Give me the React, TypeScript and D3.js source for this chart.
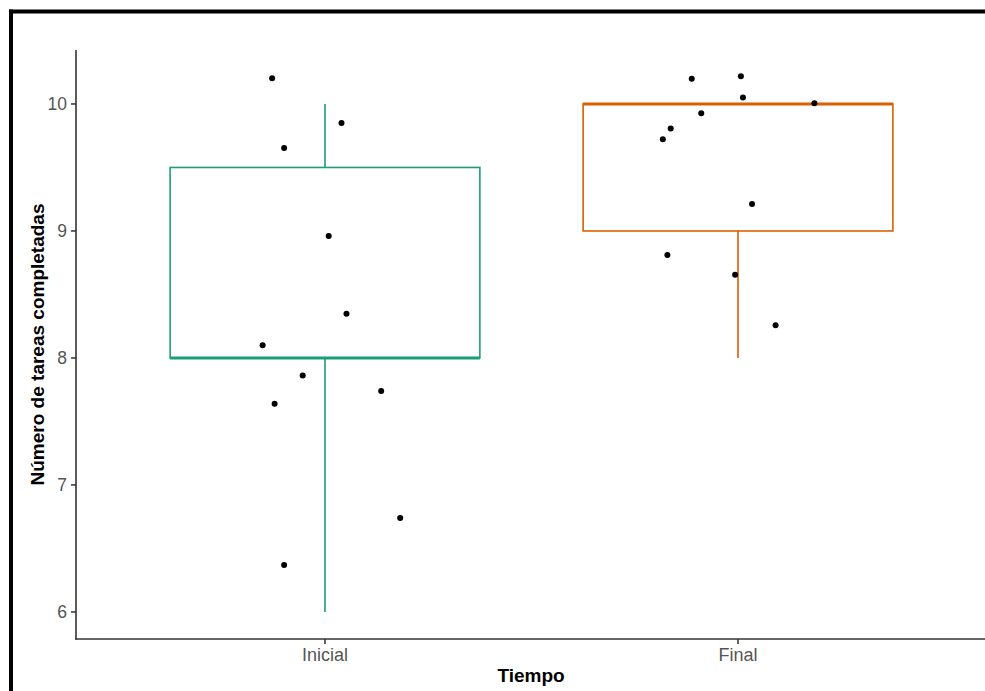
import React from "react";
import * as d3 from "d3";

const categories = ["Inicial", "Final"];
const boxColors = ["#1b9e77", "#d95f02"];
// box stats per category
const whiskerLow = [6, 8];
const q1 = [8, 9];
const median = [8, 10];
const q3 = [9.5, 10];
const whiskerHigh = [10, 10];

// jittered points (offset in category units, value)
const inicialOffsets = [-0.128, 0.04, -0.099, 0.009, 0.052, -0.151, -0.054, 0.136, -0.122, 0.182, -0.099];
const inicialValues = [10.202, 9.85, 9.654, 8.961, 8.349, 8.1, 7.861, 7.74, 7.64, 6.74, 6.37];
const finalOffsets = [-0.112, 0.007, 0.012, 0.185, -0.089, -0.163, -0.182, 0.034, -0.171, -0.007, 0.091];
const finalValues = [10.199, 10.218, 10.05, 10.006, 9.927, 9.806, 9.722, 9.213, 8.811, 8.656, 8.257];

const yTicks = [6, 7, 8, 9, 10];
const xTitle = "Tiempo";
const yTitle = "Número de tareas completadas";

export default function App() {
  const W = 985;
  const H = 691;
  const left = 76;
  const right = 985;
  const top = 50;
  const bottom = 639;

  const x = d3.scaleLinear().domain([1, 2]).range([325, 738]);
  const y = d3.scaleLinear().domain([5.787, 10.425]).range([bottom, top]);
  const bw = 0.75;
  const font = "'Liberation Sans', Arial, Helvetica, sans-serif";

  const points = [
    ...inicialValues.map((v, i) => ({ c: 1 + inicialOffsets[i], v })),
    ...finalValues.map((v, i) => ({ c: 2 + finalOffsets[i], v })),
  ];

  return (
    <svg width={W} height={H} style={{ position: "absolute", left: 0, top: 0, background: "#fff" }}>
      <rect x={0} y={0} width={W} height={H} fill="#fff" />
      {/* frame */}
      <line x1={9} x2={W} y1={11.5} y2={11.5} stroke="#000" strokeWidth={4} />
      <line x1={11} x2={11} y1={9.5} y2={H} stroke="#000" strokeWidth={4} />

      {/* boxes */}
      {categories.map((cat, i) => {
        const cx = x(i + 1);
        const x0 = x(i + 1 - bw / 2);
        const x1 = x(i + 1 + bw / 2);
        const col = boxColors[i];
        return (
          <g key={cat}>
            {whiskerHigh[i] > q3[i] && (
              <line x1={cx} x2={cx} y1={y(q3[i])} y2={y(whiskerHigh[i])} stroke={col} strokeWidth={1.6} />
            )}
            {whiskerLow[i] < q1[i] && (
              <line x1={cx} x2={cx} y1={y(q1[i])} y2={y(whiskerLow[i])} stroke={col} strokeWidth={1.6} />
            )}
            <rect x={x0} y={y(q3[i])} width={x1 - x0} height={y(q1[i]) - y(q3[i])} fill="none" stroke={col} strokeWidth={1.6} />
            <line x1={x0} x2={x1} y1={y(median[i])} y2={y(median[i])} stroke={col} strokeWidth={3} />
          </g>
        );
      })}

      {/* points */}
      {points.map((p, i) => (
        <circle key={i} cx={x(p.c)} cy={y(p.v)} r={3} fill="#000" />
      ))}

      {/* axes */}
      <line x1={left} x2={left} y1={top} y2={bottom + 0.75} stroke="#333" strokeWidth={1.6} />
      <line x1={left - 0.75} x2={right} y1={bottom} y2={bottom} stroke="#333" strokeWidth={1.6} />
      {yTicks.map((t) => (
        <g key={t}>
          <line x1={left - 5} x2={left} y1={y(t)} y2={y(t)} stroke="#333" strokeWidth={1.5} />
          <text x={left - 9} y={y(t)} dy="0.36em" textAnchor="end" fontFamily={font} fontSize={17.5} fill="#555">
            {t}
          </text>
        </g>
      ))}
      {categories.map((c, i) => (
        <g key={c}>
          <line x1={x(i + 1)} x2={x(i + 1)} y1={bottom} y2={bottom + 5} stroke="#333" strokeWidth={1.5} />
          <text x={x(i + 1)} y={661} textAnchor="middle" fontFamily={font} fontSize={18} fill="#555">
            {c}
          </text>
        </g>
      ))}

      <text x={531} y={682} textAnchor="middle" fontFamily={font} fontSize={19} fontWeight="bold" fill="#000">
        {xTitle}
      </text>
      <text
        transform={`translate(44, ${(top + bottom) / 2}) rotate(-90)`}
        textAnchor="middle"
        fontFamily={font}
        fontSize={19}
        fontWeight="bold"
        fill="#000"
      >
        {yTitle}
      </text>
    </svg>
  );
}
